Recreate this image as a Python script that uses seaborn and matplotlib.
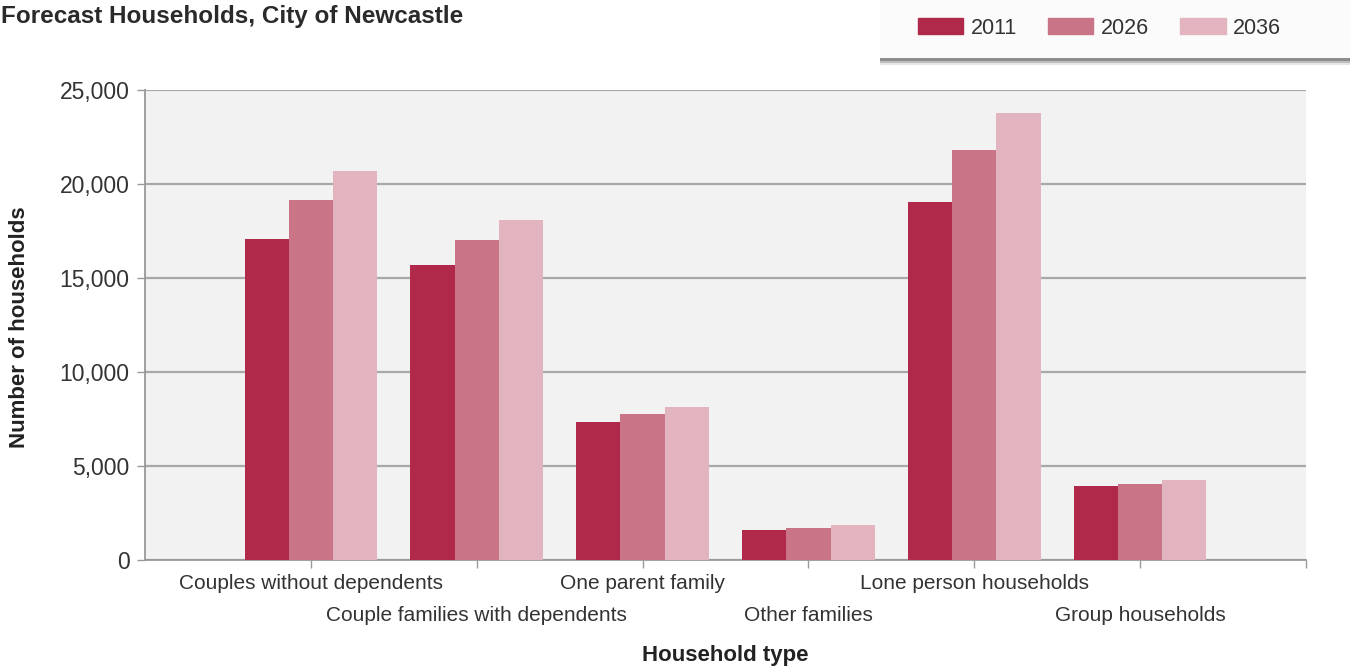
import matplotlib
matplotlib.use("Agg")
import matplotlib.pyplot as plt
import seaborn as sns
import pandas as pd
from matplotlib.ticker import FuncFormatter, FixedLocator, FixedFormatter
from matplotlib.patches import Rectangle

household_types = [
    "Couples without dependents",
    "Couple families with dependents",
    "One parent family",
    "Other families",
    "Lone person households",
    "Group households",
]
years = ["2011", "2026", "2036"]
hh_2011 = [17100, 15700, 7330, 1580, 19040, 3930]
hh_2026 = [19150, 17000, 7770, 1680, 21800, 4040]
hh_2036 = [20700, 18100, 8140, 1850, 23760, 4250]
colors = ["#b0284a", "#c97487", "#e2b4c0"]

df = pd.DataFrame({
    "Household type": household_types * 3,
    "Year": sum([[y] * len(household_types) for y in years], []),
    "Households": hh_2011 + hh_2026 + hh_2036,
})

sns.set_theme(style="white")
plt.rcParams["font.family"] = ["Liberation Sans", "DejaVu Sans"]

W, H = 1350, 667
fig = plt.figure(figsize=(W / 100, H / 100), dpi=100)
ax = fig.add_axes([145 / W, 1 - 560 / H, 1161 / W, 470 / H])
ax.set_facecolor("#f2f2f2")

sns.barplot(data=df, x="Household type", y="Households", hue="Year",
            order=household_types, hue_order=years, palette=colors,
            width=0.8, saturation=1, linewidth=0, ax=ax, legend=False,
            zorder=3)

ax.set_xlim(-1, 6)
ax.set_ylim(0, 25000)
ax.yaxis.set_major_locator(FixedLocator([0, 5000, 10000, 15000, 20000, 25000]))
ax.yaxis.set_major_formatter(FuncFormatter(lambda v, p: f"{int(v):,}"))
ax.grid(axis="y", color="#a8a8a8", linewidth=1.6, zorder=1)
ax.set_axisbelow(True)

# staggered category labels: even ones on major ticks, odd ones on minor ticks
major_pos = [0, 2, 4, 6]
minor_pos = [1, 3, 5]
ax.xaxis.set_major_locator(FixedLocator(major_pos))
ax.xaxis.set_major_formatter(FixedFormatter([household_types[0], household_types[2],
                                             household_types[4], ""]))
ax.xaxis.set_minor_locator(FixedLocator(minor_pos))
ax.xaxis.set_minor_formatter(FixedFormatter([household_types[1], household_types[3],
                                             household_types[5]]))
ax.tick_params(axis="x", which="major", length=6, width=1, color="#999999",
               pad=4, labelsize=15, labelcolor="#333333", bottom=True)
ax.tick_params(axis="x", which="minor", length=6, width=1, color="#999999",
               pad=27, labelsize=15, labelcolor="#333333", bottom=True)
ax.tick_params(axis="y", length=6, width=1, color="#999999", labelsize=16.5,
               labelcolor="#333333", left=True, pad=5)

for side in ["top", "right"]:
    ax.spines[side].set_visible(False)
for side in ["left", "bottom"]:
    ax.spines[side].set_color("#999999")
    ax.spines[side].set_linewidth(1.3)

ax.set_xlabel("Household type", fontsize=16, fontweight="bold", color="#222222")
ax.xaxis.set_label_coords((725 - 145) / 1161, (560 - 656) / 470)
ax.xaxis.label.set_va("center")
ax.set_ylabel("Number of households", fontsize=16, fontweight="bold", color="#222222")
ax.yaxis.set_label_coords((20 - 145) / 1161, (560 - 327) / 470)
ax.yaxis.label.set_va("center")

fig.text(1 / W, 0.993, "Forecast Households, City of Newcastle", fontsize=17.5,
         fontweight="bold", color="#2a2a2a", ha="left", va="top")

# legend panel with a soft drop shadow along its lower edge
box_x0, box_x1, box_y0, box_y1 = 880, 1352, 0, 58
for off, col in [(7, "#e6e6e6"), (5, "#bdbdbd"), (3, "#8c8c8c")]:
    fig.patches.append(Rectangle((box_x0 / W, 1 - (box_y1 + off) / H),
                                 (box_x1 - box_x0) / W, (box_y1 - box_y0) / H,
                                 transform=fig.transFigure, facecolor=col,
                                 edgecolor="none", zorder=1))
fig.patches.append(Rectangle((box_x0 / W, 1 - box_y1 / H),
                             (box_x1 - box_x0) / W, (box_y1 - box_y0) / H,
                             transform=fig.transFigure, facecolor="#fbfbfb",
                             edgecolor="none", zorder=2))

handles = [plt.Rectangle((0, 0), 1, 1, color=c) for c in colors]
leg = fig.legend(handles, years, loc="center left",
                 bbox_to_anchor=(918 / W, 1 - 28 / H),
                 ncol=3, frameon=False, fontsize=15.5, handlelength=2.1,
                 handleheight=0.75, columnspacing=1.45, handletextpad=0.35,
                 borderpad=0, borderaxespad=0)
leg.set_zorder(5)
for t in leg.get_texts():
    t.set_color("#333333")

fig.savefig("out.png", dpi=100)
